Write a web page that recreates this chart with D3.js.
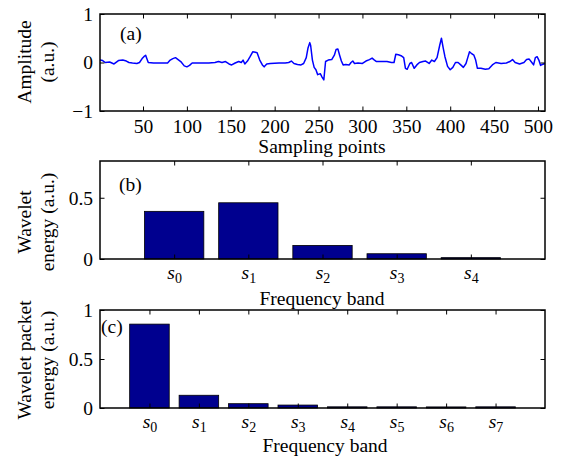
<!DOCTYPE html>
<html lang="en">
<head>
  <meta charset="utf-8">
  <title>Signal, wavelet energy and wavelet packet energy</title>
  <script type="text/javascript" src="https://cdn.jsdelivr.net/npm/d3@7"></script>
  <style type="text/css">
    body {
      margin: 0;
      background: #fff;
    }
  </style>
</head>
<body>

<div id="chart"></div>

<script type="text/javascript">

const w = 564;
const h = 460;
const fontSize = 19.5;
const serif = "'Liberation Serif', 'Times New Roman', 'DejaVu Serif', serif";

// (a) signal at the turning points
const sampleIdx = [1, 4, 7, 12, 17, 22, 27, 31, 34, 38, 43, 46, 49, 51, 53, 54, 56, 62, 70, 78,
  81, 84, 87, 90, 93, 97, 100, 103, 106, 115, 125, 132, 136, 140, 144, 148, 151, 155, 159, 162,
  164, 166, 169, 172, 175, 178, 180, 183, 186, 188, 191, 195, 205, 212, 216, 219, 222, 226, 230, 233,
  236, 238, 240, 241, 243, 245, 247, 249, 252, 254, 256, 258, 261, 265, 268, 270, 272, 274, 276, 278,
  281, 285, 287, 289, 291, 295, 300, 304, 308, 311, 313, 316, 322, 328, 333, 336, 338, 341, 344, 347,
  349, 351, 354, 356, 359, 362, 365, 369, 372, 376, 379, 382, 385, 388, 390, 392, 394, 397, 400, 403,
  406, 409, 412, 415, 418, 420, 422, 424, 427, 429, 431, 435, 440, 444, 448, 452, 458, 464, 468, 471,
  474, 479, 484, 487, 490, 493, 495, 497, 499, 501, 503, 505, 508];
const amplitude = [0.05, 0.04, 0.0, 0.01, -0.03, 0.04, 0.05, 0.03, 0.0, -0.01, -0.02, 0.0, 0.08, 0.12, 0.15, 0.1, 0.0, -0.01, -0.01, -0.01,
  0.05, 0.08, 0.1, 0.06, 0.02, -0.07, -0.09, -0.06, -0.01, -0.01, -0.01, 0.0, 0.02, 0.0, 0.02, -0.03, -0.05, -0.01, 0.02, 0.0,
  0.05, -0.03, 0.03, 0.12, 0.22, 0.21, 0.2, 0.05, -0.05, -0.09, -0.03, -0.02, -0.01, -0.01, 0.0, 0.03, -0.02, -0.04, -0.05, -0.02,
  0.1, 0.3, 0.41, 0.35, 0.05, -0.1, -0.15, -0.25, -0.23, -0.3, -0.36, 0.02, 0.05, 0.06, 0.15, 0.27, 0.28, 0.15, 0.03, -0.05,
  -0.04, -0.05, 0.0, 0.03, -0.02, -0.01, -0.02, 0.03, 0.06, 0.09, 0.06, 0.02, 0.02, 0.02, 0.0, 0.0, 0.17, 0.16, 0.14, 0.1,
  -0.12, -0.14, -0.02, 0.0, -0.12, -0.05, 0.0, 0.02, 0.03, -0.02, 0.05, 0.02, 0.1, 0.35, 0.5, 0.3, 0.12, -0.08, -0.15, -0.1,
  0.0, 0.0, -0.05, -0.1, -0.02, 0.1, 0.22, 0.19, 0.15, 0.05, -0.12, -0.12, -0.14, -0.13, -0.05, 0.0, -0.02, -0.01, 0.02, 0.06,
  0.0, -0.03, 0.0, 0.06, 0.07, 0.0, -0.05, 0.1, 0.12, 0.05, -0.06, -0.04, -0.02];
const sampleTicks = [50, 100, 150, 200, 250, 300, 350, 400, 450, 500];
const amplitudeTicks = [-1, 0, 1];

// (b) wavelet energy
const waveletBands = ["0", "1", "2", "3", "4"];
const waveletEnergy = [0.389, 0.459, 0.111, 0.043, 0.011];
const waveletTicks = [0, 0.5];

// (c) wavelet packet energy
const packetBands = ["0", "1", "2", "3", "4", "5", "6", "7"];
const packetEnergy = [0.856, 0.13, 0.044, 0.03, 0.012, 0.012, 0.011, 0.012];
const packetTicks = [0, 0.5, 1];

const svg = d3.select("#chart")
  .append("svg")
  .attr("width", w)
  .attr("height", h)
  .attr("font-family", serif);

const left = 100, right = 545;
const tickLen = 4.5;

// box + inward ticks on all four sides, MATLAB style; returns the bottom axis group
function frame(g, x, y, top, bottom, xTicks, yTicks, xFormat, yFormat, xPad) {
  const gx = g.append("g")
    .attr("transform", "translate(0," + bottom + ")")
    .call(d3.axisBottom(x).tickValues(xTicks).tickSizeInner(-tickLen).tickSizeOuter(0).tickPadding(xPad).tickFormat(xFormat));
  g.append("g")
    .attr("transform", "translate(0," + top + ")")
    .call(d3.axisTop(x).tickValues(xTicks).tickSizeInner(-tickLen).tickSizeOuter(0).tickFormat(""));
  g.append("g")
    .attr("transform", "translate(" + left + ",0)")
    .call(d3.axisLeft(y).tickValues(yTicks).tickSizeInner(-tickLen).tickSizeOuter(0).tickPadding(7).tickFormat(yFormat));
  g.append("g")
    .attr("transform", "translate(" + right + ",0)")
    .call(d3.axisRight(y).tickValues(yTicks).tickSizeInner(-tickLen).tickSizeOuter(0).tickFormat(""));
  g.selectAll(".domain").remove();
  g.selectAll("g").attr("font-family", serif).attr("font-size", fontSize);
  g.selectAll(".tick line").attr("stroke", "#000").attr("stroke-width", 1);
  g.selectAll(".tick text").attr("fill", "#000");
  g.append("rect")
    .attr("x", left).attr("y", top)
    .attr("width", right - left).attr("height", bottom - top)
    .attr("fill", "none").attr("stroke", "#000").attr("stroke-width", 1.5);
  return gx;
}

function yLabel(lines, cy) {
  const xs = [31, 54];
  lines.forEach((t, i) => {
    svg.append("text")
      .attr("transform", "translate(" + xs[i] + "," + cy + ") rotate(-90)")
      .attr("text-anchor", "middle")
      .attr("font-size", fontSize)
      .text(t);
  });
}

function plainText(t, x, y, anchor) {
  svg.append("text")
    .attr("x", x).attr("y", y)
    .attr("text-anchor", anchor || "middle")
    .attr("font-size", fontSize)
    .text(t);
}

// subscript labels: italic s with small upright digit
function subLabels(gx) {
  gx.selectAll(".tick text").each(function() {
    const t = d3.select(this);
    const idx = t.text();
    t.text(null);
    t.append("tspan").attr("font-style", "italic").text("s");
    t.append("tspan").attr("font-size", 14).attr("dy", "0.3em").text(idx);
  });
}

// ---------- (a) ----------
const aTop = 14, aBottom = 111;
const xA = d3.scaleLinear().domain([1, 508]).range([left, right]);
const yA = d3.scaleLinear().domain([-1, 1]).range([aBottom, aTop]);

const gA = svg.append("g");
gA.append("path")
  .datum(sampleIdx.map((s, i) => [s, amplitude[i]]))
  .attr("fill", "none")
  .attr("stroke", "#0000ff")
  .attr("stroke-width", 1.5)
  .attr("stroke-linejoin", "round")
  .attr("d", d3.line().x(d => xA(d[0])).y(d => yA(d[1])));
frame(gA, xA, yA, aTop, aBottom, sampleTicks, amplitudeTicks, d3.format("d"), d3.format("d"), 8);
plainText("(a)", 120, 40, "start");
plainText("Sampling points", 322, 153);
yLabel(["Amplitude", "(a.u.)"], 62);

// ---------- (b) ----------
const bTop = 161, bBottom = 259;
const xB = d3.scaleLinear().domain([0, waveletBands.length + 1]).range([left, right]);
const yB = d3.scaleLinear().domain([0, 0.8]).range([bBottom, bTop]);
const barW = 0.8;

const gB = svg.append("g");
gB.selectAll("rect.bar")
  .data(waveletEnergy)
  .enter()
  .append("rect")
  .attr("class", "bar")
  .attr("x", (d, i) => xB(i + 1 - barW / 2))
  .attr("width", xB(barW) - xB(0))
  .attr("y", d => yB(d))
  .attr("height", d => yB(0) - yB(d))
  .attr("fill", "#00008f")
  .attr("stroke", "#000")
  .attr("stroke-width", 0.8);
const gBx = frame(gB, xB, yB, bTop, bBottom, d3.range(1, waveletBands.length + 1), waveletTicks,
  i => waveletBands[i - 1], d3.format("~g"), 6);
subLabels(gBx);
plainText("(b)", 119, 191, "start");
plainText("Frequency band", 322, 305);
yLabel(["Wavelet", "energy (a.u.)"], 222);

// ---------- (c) ----------
const cTop = 310, cBottom = 408;
const xC = d3.scaleLinear().domain([0, packetBands.length + 1]).range([left, right]);
const yC = d3.scaleLinear().domain([0, 1]).range([cBottom, cTop]);

const gC = svg.append("g");
gC.selectAll("rect.bar")
  .data(packetEnergy)
  .enter()
  .append("rect")
  .attr("class", "bar")
  .attr("x", (d, i) => xC(i + 1 - barW / 2))
  .attr("width", xC(barW) - xC(0))
  .attr("y", d => yC(d))
  .attr("height", d => yC(0) - yC(d))
  .attr("fill", "#00008f")
  .attr("stroke", "#000")
  .attr("stroke-width", 0.8);
const gCx = frame(gC, xC, yC, cTop, cBottom, d3.range(1, packetBands.length + 1), packetTicks,
  i => packetBands[i - 1], d3.format("~g"), 6);
subLabels(gCx);
plainText("(c)", 101, 333, "start");
plainText("Frequency band", 325, 452);
yLabel(["Wavelet packet", "energy (a.u.)"], 360);

</script>

</body>
</html>
